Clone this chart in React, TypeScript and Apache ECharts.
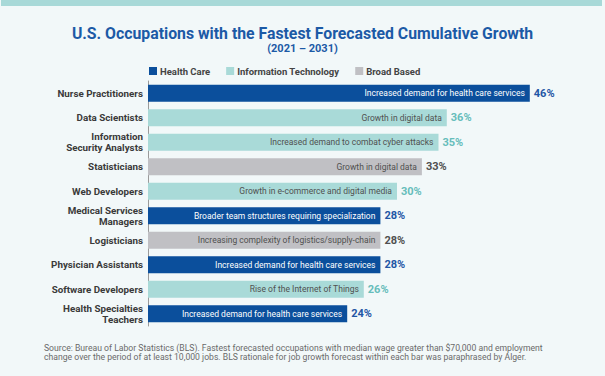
import React, { useEffect, useRef } from "react";
import * as echarts from "echarts";

const occupations = [
  "Nurse Practitioners",
  "Data Scientists",
  "Information\nSecurity Analysts",
  "Statisticians",
  "Web Developers",
  "Medical Services\nManagers",
  "Logisticians",
  "Physician Assistants",
  "Software Developers",
  "Health Specialties\nTeachers",
];
const growth = [46, 36, 35, 33, 30, 28, 28, 28, 26, 24];
const sectors = ["H", "IT", "IT", "B", "IT", "H", "B", "H", "IT", "H"];
const reasons = [
  "Increased demand for health care services",
  "Growth in digital data",
  "Increased demand to combat cyber attacks",
  "Growth in digital data",
  "Growth in e-commerce and digital media",
  "Broader team structures requiring specialization",
  "Increasing complexity of logistics/supply-chain",
  "Increased demand for health care services",
  "Rise of the Internet of Things",
  "Increased demand for health care services",
];
const sectorNames = { H: "Health Care", IT: "Information Technology", B: "Broad Based" };
const sectorKeys = ["H", "IT", "B"];

const BAR_COLORS: Record<string, string> = { H: "#0b4f9c", IT: "#a9dad8", B: "#c0c0c4" };
const INNER_TEXT: Record<string, string> = { H: "#ffffff", IT: "#505050", B: "#505050" };
const VALUE_TEXT: Record<string, string> = { H: "#1f56a5", IT: "#66bdbb", B: "#505050" };

const FONT = 'Roboto, "DejaVu Sans Condensed", sans-serif';

export default function App() {
  const ref = useRef<HTMLDivElement>(null);
  useEffect(() => {
    if (!ref.current) return;
    const chart = echarts.init(ref.current, null, { renderer: "svg" });
    const sectorSeries = sectorKeys.map((k) => ({
      type: "bar",
      name: (sectorNames as any)[k],
      stack: "main",
      barWidth: 17,
      itemStyle: { color: BAR_COLORS[k] },
      label: {
        show: true,
        position: "insideRight",
        distance: 5,
        color: INNER_TEXT[k],
        fontFamily: FONT,
        fontSize: 8.5,
        formatter: (p: any) => reasons[p.dataIndex],
      },
      data: growth.map((v, i) => (sectors[i] === k ? v : "-")),
    }));
    chart.setOption({
      animation: false,
      backgroundColor: "#f2f8f9",
      title: {
        text: "U.S. Occupations with the Fastest Forecasted Cumulative Growth",
        subtext: "(2021 – 2031)",
        left: "center",
        top: 20,
        itemGap: 2,
        textStyle: { color: "#1c5aa6", fontSize: 15.8, fontWeight: "bold", fontFamily: FONT },
        subtextStyle: { color: "#1c5aa6", fontSize: 11, fontWeight: "bold", fontFamily: FONT },
      },
      legend: {
        left: 149,
        top: 66,
        padding: 0,
        itemWidth: 8,
        itemHeight: 8,
        itemGap: 16,
        icon: "rect",
        data: sectorKeys.map((k) => (sectorNames as any)[k]),
        textStyle: { color: "#444", fontSize: 9.5, fontWeight: "bold", fontFamily: FONT, padding: [0, 0, 0, -2] },
      },
      grid: { left: 148, width: 415, top: 81, height: 245 },
      xAxis: {
        type: "value",
        min: 0,
        max: 50,
        show: false,
      },
      yAxis: {
        type: "category",
        inverse: true,
        data: occupations,
        axisLine: { show: true, lineStyle: { color: "#9a9a9a", width: 1 } },
        axisTick: { show: false },
        axisLabel: {
          margin: 5,
          color: "#3a3a3a",
          fontWeight: "bold",
          fontSize: 9.8,
          lineHeight: 11,
          fontFamily: FONT,
        },
      },
      series: [
        ...sectorSeries,
        {
          type: "bar",
          name: "values",
          barWidth: 17,
          barGap: "-100%",
          itemStyle: { color: "rgba(0,0,0,0)" },
          silent: true,
          label: {
            show: true,
            position: "right",
            distance: 4,
            fontWeight: "bold",
            fontSize: 11,
            fontFamily: FONT,
            formatter: (p: any) => p.value + "%",
          },
          data: growth.map((v, i) => ({ value: v, label: { color: VALUE_TEXT[sectors[i]] } })),
        },
      ],
      graphic: [
        { type: "rect", shape: { x: 1, y: 0, width: 601, height: 6 }, style: { fill: "#a8d9d8" } },
        {
          type: "text",
          left: 44,
          top: 343,
          style: {
            text:
              "Source: Bureau of Labor Statistics (BLS). Fastest forecasted occupations with median wage greater than $70,000 and employment\nchange over the period of at least 10,000 jobs. BLS rationale for job growth forecast within each bar was paraphrased by Alger.",
            fill: "#6a6a6a",
            fontSize: 8.65,
            lineHeight: 9.5,
            fontFamily: FONT,
          },
        },
      ],
    });
    return () => chart.dispose();
  }, []);
  return (
    <div ref={ref} style={{ position: "absolute", left: 0, top: 0, width: 605, height: 376 }} />
  );
}
